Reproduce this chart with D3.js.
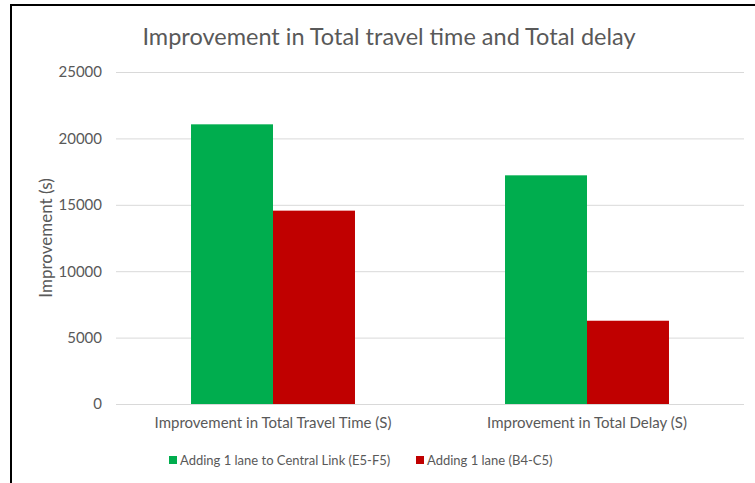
<!DOCTYPE html>
<html>
<head>
<meta charset="utf-8">
<script src="https://cdn.jsdelivr.net/npm/d3@7"></script>
<style>
  body { margin: 0; background: #fff; }
  svg text { font-family: Lato, "Open Sans", sans-serif; fill: #595959; }
</style>
</head>
<body>
<svg id="chart" width="755" height="483"></svg>
<script>
// data
let categories = ['Improvement in Total Travel Time (S)', 'Improvement in Total Delay (S)'];
let seriesNames = ['Adding 1 lane to Central Link (E5-F5)', 'Adding 1 lane (B4-C5)'];
let centralLink = [21060, 17220];
let laneB4C5 = [14560, 6270];
let yTicks = [0, 5000, 10000, 15000, 20000, 25000];
let colors = ['#00ad4e', '#c00000'];

let svg = d3.select('#chart');
let margin = { left: 116, right: 11, top: 72, bottom: 79 };
let width = 755, height = 483;

// frame lines (top and left, like the cropped screenshot)
svg.append('line').attr('x1', 11).attr('x2', 755).attr('y1', 5).attr('y2', 5)
    .attr('stroke', '#000').attr('stroke-width', 2);
svg.append('line').attr('x1', 11).attr('x2', 11).attr('y1', 4).attr('y2', 483)
    .attr('stroke', '#000').attr('stroke-width', 2);

let x0 = d3.scaleBand().domain(categories).range([margin.left, width - margin.right]);
let x1 = d3.scaleBand().domain(seriesNames).range([0, x0.bandwidth()]).paddingOuter(0.915).paddingInner(0);
let y = d3.scaleLinear().domain([0, 25000]).range([height - margin.bottom, margin.top]);

// gridlines
let yAxis = d3.axisLeft(y).tickValues(yTicks).tickFormat(d3.format('d'))
    .tickSize(-(width - margin.left - margin.right)).tickPadding(14);
let gy = svg.append('g').attr('transform', `translate(${margin.left},0)`).call(yAxis);
gy.select('.domain').remove();
gy.selectAll('.tick line').attr('stroke', '#d9d9d9').attr('stroke-width', 1);
gy.selectAll('.tick text').attr('font-size', 15).attr('fill', '#595959');

// bars
let rows = categories.map((c, i) => ({ cat: c, vals: [centralLink[i], laneB4C5[i]] }));
let groups = svg.selectAll('.grp').data(rows).enter()
    .append('g').attr('class', 'grp')
    .attr('transform', d => `translate(${x0(d.cat)},0)`);
groups.selectAll('rect').data(d => d.vals.map((v, k) => ({ name: seriesNames[k], v: v, k: k }))).enter()
    .append('rect')
    .attr('x', d => x1(d.name))
    .attr('width', x1.bandwidth())
    .attr('y', d => y(d.v))
    .attr('height', d => y(0) - y(d.v))
    .attr('fill', d => colors[d.k]);

// baseline
svg.append('line').attr('x1', margin.left).attr('x2', width - margin.right)
    .attr('y1', y(0) + 0.5).attr('y2', y(0) + 0.5).attr('stroke', '#d9d9d9');

// category labels
let xAxis = d3.axisBottom(x0).tickSize(0).tickPadding(13);
let gx = svg.append('g').attr('transform', `translate(0,${y(0)})`).call(xAxis);
gx.select('.domain').remove();
gx.selectAll('.tick text').attr('font-size', 15).attr('fill', '#595959');

// title
svg.append('text').attr('x', 389).attr('y', 45).attr('text-anchor', 'middle')
    .attr('font-size', 23.5).text('Improvement in Total travel time and Total delay');

// y label
svg.append('text').attr('transform', 'translate(52,238) rotate(-90)')
    .attr('text-anchor', 'middle').attr('font-size', 17).text('Improvement (s)');

// legend
let legendX = [169, 416];
let lg = svg.selectAll('.lg').data(seriesNames).enter().append('g').attr('class', 'lg')
    .attr('transform', (d, i) => `translate(${legendX[i]},460)`);
lg.append('rect').attr('x', 0).attr('y', -4).attr('width', 8).attr('height', 8)
    .attr('fill', (d, i) => colors[i]);
lg.append('text').attr('x', 11).attr('y', 4.5).attr('font-size', 13).text(d => d);
</script>
</body>
</html>
